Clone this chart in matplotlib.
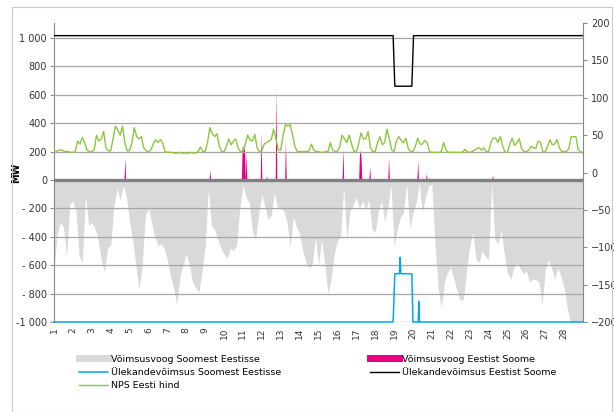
import numpy as np
import matplotlib.pyplot as plt
from matplotlib.lines import Line2D
from matplotlib.patches import Rectangle

days = list(range(1, 29))

# Võimsusvoog Soomest Eestisse (MW), 6 readings per day (every 4 h) + end
flow_fi_ee = [
    -630, -380, -300, -330, -540, -170,
    -150, -220, -540, -580, -110, -320,
    -300, -340, -420, -560, -650, -480,
    -460, -190, -60, -140, -40, -120,
    -300, -420, -600, -770, -600, -250,
    -200, -300, -400, -460, -450, -480,
    -560, -680, -760, -880, -680, -600,
    -520, -600, -720, -760, -790, -650,
    -470, -60, -320, -350, -420, -480,
    -520, -550, -480, -500, -460, -200,
    -30, -120, -160, -360, -420, -240,
    -100, -190, -280, -250, -90, -200,
    -200, -220, -300, -470, -260, -330,
    -380, -500, -580, -620, -600, -400,
    -600, -420, -600, -800, -700, -520,
    -430, -400, -50, -420, -220, -180,
    -120, -200, -150, -210, -140, -350,
    -370, -220, -150, -290, -200, -30,
    -470, -350, -260, -230, -30, -340,
    -230, -160, -20, -230, -120, -40,
    -30, -470, -760, -900, -720, -650,
    -620, -700, -780, -850, -840, -640,
    -470, -370, -560, -580, -500, -540,
    -560, -20, -420, -450, -350, -520,
    -650, -700, -620, -580, -620, -660,
    -640, -720, -700, -700, -720, -880,
    -640, -560, -620, -700, -620, -680,
    -760, -900, -1000, -1000, -1000, -1000,
    -1000,
]

# Võimsusvoog Eestist Soome (MW), short spikes
spike_day = [4.76, 9.25, 10.95, 11.0, 11.05, 11.1, 11.15, 11.95, 12.27, 12.75,
             13.27, 16.3, 17.15, 17.2, 17.25, 17.7, 18.7, 20.25, 20.7, 24.2]
spike_mw = [160, 70, 230, 240, 210, 230, 190, 345, 30, 650,
            280, 230, 180, 210, 160, 95, 160, 140, 45, 35]

# Ülekandevõimsus Eestist Soome (MW)
cap_ee_fi_day = [1, 18.95, 19.04, 19.94, 20.03, 29]
cap_ee_fi_mw = [1016, 1016, 660, 660, 1016, 1016]

# Ülekandevõimsus Soomest Eestisse (MW)
cap_fi_ee_day = [1, 18.95, 19.04, 19.28, 19.32, 19.36, 19.94, 20.0, 20.28, 20.31, 20.34, 29]
cap_fi_ee_mw = [-1000, -1000, -660, -660, -545, -660, -660, -1000, -1000, -855, -1000, -1000]

# NPS Eesti hind (EUR/MWh), 8 readings per day (every 3 h) + end
price = [
    28, 28, 30, 30, 29, 28, 28, 27,
    27, 28, 42, 38, 47, 40, 30, 28,
    28, 30, 50, 42, 45, 55, 33, 29,
    29, 45, 62, 57, 50, 62, 40, 29,
    29, 40, 60, 48, 45, 48, 33, 29,
    28, 30, 38, 44, 40, 44, 40, 28,
    27, 27, 27, 26, 26, 27, 26, 26,
    26, 26, 27, 26, 26, 28, 34, 28,
    28, 40, 60, 52, 48, 52, 35, 28,
    28, 35, 45, 37, 42, 45, 32, 28,
    28, 38, 50, 44, 42, 51, 33, 28,
    29, 38, 40, 42, 44, 58, 45, 30,
    30, 50, 64, 62, 64, 50, 35, 28,
    28, 28, 28, 28, 29, 38, 30, 28,
    28, 27, 27, 28, 28, 40, 30, 28,
    28, 35, 50, 45, 40, 50, 38, 28,
    28, 38, 53, 45, 45, 55, 33, 28,
    28, 40, 48, 37, 40, 58, 45, 30,
    28, 42, 48, 43, 40, 46, 32, 28,
    28, 35, 46, 38, 38, 43, 40, 28,
    27, 27, 27, 27, 28, 40, 30, 27,
    27, 27, 27, 27, 27, 27, 31, 28,
    27, 28, 30, 32, 33, 30, 33, 28,
    28, 40, 46, 46, 40, 48, 35, 27,
    27, 38, 46, 36, 40, 45, 32, 28,
    28, 30, 35, 33, 32, 42, 40, 28,
    28, 35, 44, 37, 38, 44, 33, 28,
    28, 28, 32, 48, 48, 48, 30, 28,
    26,
]

mw_ticks = [-1000, -800, -600, -400, -200, 0, 200, 400, 600, 800, 1000]
mw_labels = ['-1 000', '- 800', '- 600', '- 400', '- 200', '0', '200', '400', '600', '800', '1 000']
eur_ticks = [-200, -150, -100, -50, 0, 50, 100, 150, 200]

c_gray = '#d9d9d9'
c_pink = '#e5007d'
c_blue = '#00a8e8'
c_green = '#8dc63f'
txt = '#333333'

fig = plt.figure(figsize=(6.14, 4.12), dpi=100)
fig.patches.append(Rectangle((12 / 614, 0.0), 600 / 614, 405 / 412, transform=fig.transFigure,
                             fill=False, edgecolor='#c8c8c8', linewidth=0.8))
ax = fig.add_axes([54 / 614, 1 - 322 / 412, 529 / 614, 299 / 412])

t6 = 1 + np.arange(len(flow_fi_ee)) / 6
ax.fill_between(t6, flow_fi_ee, 0, color=c_gray, linewidth=0, zorder=1)

# hourly series for the export spikes
th = 1 + np.arange(28 * 24 + 1) / 24
pink = np.zeros(len(th))
for d, v in zip(spike_day, spike_mw):
    pink[int(round((d - 1) * 24))] = v
ax.fill_between(th, pink, 0, color=c_pink, linewidth=0, zorder=2)

for y in mw_ticks:
    if y != 0:
        ax.axhline(y, color='#a6a6a6', linewidth=0.9, zorder=3)
ax.axhline(0, color='#808080', linewidth=2.4, zorder=4)

ax.plot(cap_fi_ee_day, cap_fi_ee_mw, color=c_blue, linewidth=1.1, zorder=5, clip_on=False)
ax.plot(cap_ee_fi_day, cap_ee_fi_mw, color='black', linewidth=1.0, zorder=5)

ax.set_xlim(1, 29)
ax.set_ylim(-1000, 1105)
ax.set_yticks(mw_ticks)
ax.set_yticklabels(mw_labels)
ax.set_xticks(days)
ax.set_xticklabels([str(d) for d in days], rotation=90)
ax.tick_params(axis='x', length=0, pad=4, labelsize=6.5, labelcolor=txt)
ax.tick_params(axis='y', length=3, width=0.8, color='#888888', pad=2, labelsize=7, labelcolor=txt)
for s in ['top', 'bottom', 'right']:
    ax.spines[s].set_visible(False)
ax.spines['left'].set_color('#888888')
ax.set_ylabel('MW', fontsize=7, fontweight='bold')
ax.yaxis.set_label_coords(-0.062, 0.5)

ax2 = ax.twinx()
t8 = 1 + np.arange(len(price)) / 8
ax2.plot(t8, price, color=c_green, linewidth=1.0, zorder=6)
ax2.set_ylim(-200, 200)
ax2.set_yticks(eur_ticks)
ax2.tick_params(axis='y', length=3, width=0.8, color='#888888', pad=3, labelsize=7, labelcolor=txt)
for s in ['top', 'bottom', 'left']:
    ax2.spines[s].set_visible(False)
ax2.spines['right'].set_color('#888888')
ax2.set_ylabel('€/MWh', fontsize=7, fontweight='bold', labelpad=1)

handles = [
    Line2D([], [], color=c_gray, linewidth=5),
    Line2D([], [], color=c_blue, linewidth=1.1),
    Line2D([], [], color=c_green, linewidth=1.0),
    Line2D([], [], color=c_pink, linewidth=5),
    Line2D([], [], color='black', linewidth=1.0),
]
labels = ['Võimsusvoog Soomest Eestisse', 'Ülekandevõimsus Soomest Eestisse', 'NPS Eesti hind',
          'Võimsusvoog Eestist Soome', 'Ülekandevõimsus Eestist Soome']
fig.legend(handles, labels, ncol=2, loc='upper left', bbox_to_anchor=(74 / 614, 1 - 350 / 412),
           frameon=False, fontsize=6.8, handlelength=3.1, handletextpad=0.3,
           columnspacing=9.4, labelspacing=0.45, borderpad=0)

fig.savefig('out.png', dpi=100)
